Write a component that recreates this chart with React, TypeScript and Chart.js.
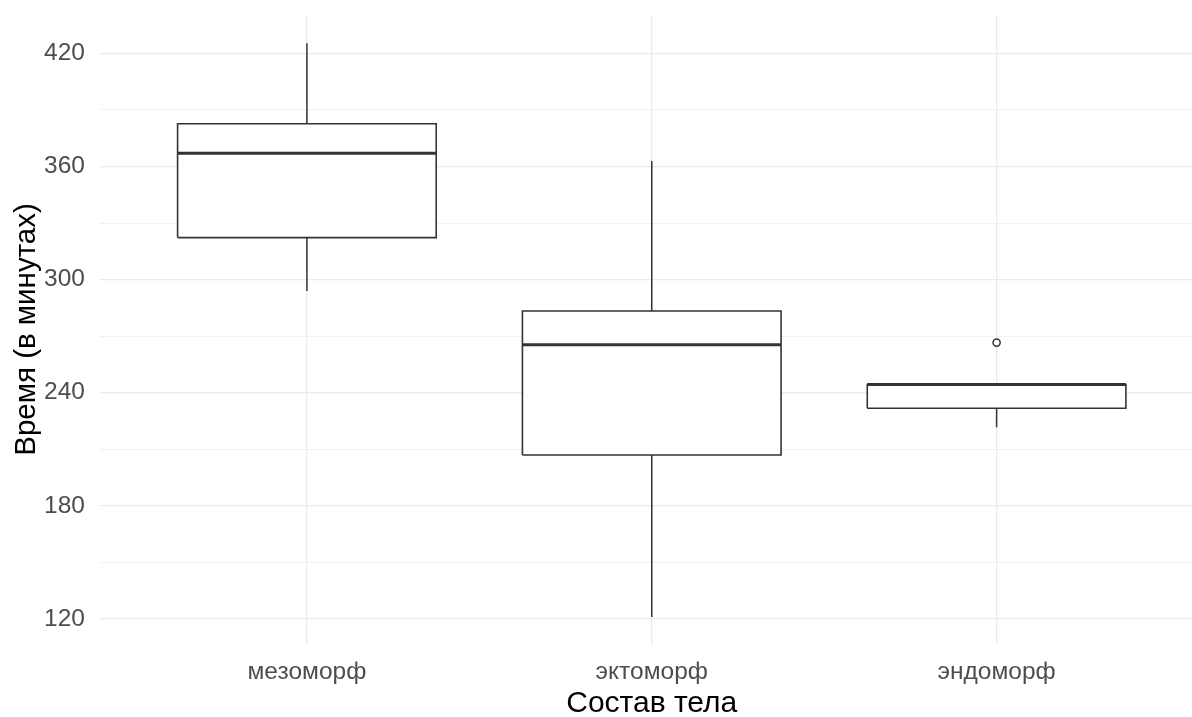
import React, { useEffect, useRef } from 'react';
import { Chart, registerables } from 'chart.js';

Chart.register(...registerables);

const categories = ['мезоморф', 'эктоморф', 'эндоморф'];
const whiskerLow = [294, 121, 221.7];
const q1 = [322.3, 207, 231.8];
const median = [367.1, 265.4, 244.4];
const q3 = [382.7, 283.4, 244.4];
const whiskerHigh = [425.4, 363, 244.4];
const outliers: number[][] = [[], [], [266.6]];
const majorTicks = [120, 180, 240, 300, 360, 420];
const minorTicks = [150, 210, 270, 330, 390];

const xTitle = 'Состав тела';
const yTitle = 'Время (в минутах)';

const FONT = "'Liberation Sans', Arial, sans-serif";
const LINE = '#333333';
const HALF = 0.375;

export default function App() {
  const ref = useRef<HTMLCanvasElement | null>(null);

  useEffect(() => {
    document.body.style.margin = '0';
    const canvas = ref.current;
    if (!canvas) return;

    const datasets: any[] = [];
    categories.forEach((_, i) => {
      const x = i + 1;
      datasets.push({
        data: [
          { x, y: q3[i] },
          { x, y: whiskerHigh[i] },
        ],
        showLine: true,
        borderColor: LINE,
        borderWidth: 1.5,
        pointRadius: 0,
        fill: false,
        order: 3,
      });
      datasets.push({
        data: [
          { x, y: whiskerLow[i] },
          { x, y: q1[i] },
        ],
        showLine: true,
        borderColor: LINE,
        borderWidth: 1.5,
        pointRadius: 0,
        fill: false,
        order: 3,
      });
      datasets.push({
        data: [
          { x: x - HALF, y: q1[i] },
          { x: x + HALF, y: q1[i] },
          { x: x + HALF, y: q3[i] },
          { x: x - HALF, y: q3[i] },
          { x: x - HALF, y: q1[i] },
        ],
        showLine: true,
        borderColor: LINE,
        borderWidth: 1.6,
        backgroundColor: '#FFFFFF',
        pointRadius: 0,
        fill: 'shape',
        tension: 0,
        order: 2,
      });
      datasets.push({
        data: [
          { x: x - HALF, y: median[i] },
          { x: x + HALF, y: median[i] },
        ],
        showLine: true,
        borderColor: LINE,
        borderWidth: 3,
        pointRadius: 0,
        fill: false,
        order: 1,
      });
      if (outliers[i].length) {
        datasets.push({
          data: outliers[i].map((y) => ({ x, y })),
          showLine: false,
          pointRadius: 3.6,
          pointBorderWidth: 1.5,
          pointBorderColor: LINE,
          pointBackgroundColor: '#FFFFFF',
          order: 0,
        });
      }
    });

    const chart = new Chart(canvas, {
      type: 'scatter',
      data: { datasets },
      options: {
        animation: false,
        responsive: false,
        events: [],
        layout: { padding: { top: 15, left: 0, right: 0, bottom: 0 } },
        plugins: { legend: { display: false }, tooltip: { enabled: false } },
        scales: {
          x: {
            type: 'linear',
            min: 0.4,
            max: 3.6,
            afterBuildTicks: (s: any) => {
              s.ticks = categories.map((_, i) => ({ value: i + 1 }));
            },
            afterFit: (s: any) => {
              s.height = 73;
              s.paddingLeft = 0;
              s.paddingRight = 0;
            },
            ticks: {
              autoSkip: false,
              maxRotation: 0,
              padding: 14,
              color: '#4D4D4D',
              font: { family: FONT, size: 24.5 },
              callback: (v: any) => categories[Math.round(Number(v)) - 1] ?? '',
            },
            grid: { color: '#EBEBEB', lineWidth: 1.3, drawTicks: false },
            border: { display: false },
            title: {
              display: true,
              text: xTitle,
              color: '#000000',
              font: { family: FONT, size: 30, lineHeight: 1 },
              padding: { top: 0, bottom: -2 },
            },
          },
          y: {
            type: 'linear',
            min: 106.7,
            max: 440.4,
            afterBuildTicks: (s: any) => {
              s.ticks = [...majorTicks, ...minorTicks]
                .sort((a, b) => a - b)
                .map((v) => ({ value: v }));
            },
            afterFit: (s: any) => {
              s.width = 100;
              s.paddingTop = 0;
              s.paddingBottom = 0;
            },
            ticks: {
              padding: 15,
              color: '#4D4D4D',
              font: { family: FONT, size: 24.5 },
              callback: (v: any) => (majorTicks.includes(Number(v)) ? String(v) : ''),
            },
            grid: {
              color: (ctx: any) =>
                majorTicks.includes(ctx.tick?.value) ? '#EBEBEB' : '#F1F1F1',
              lineWidth: (ctx: any) => (majorTicks.includes(ctx.tick?.value) ? 1.3 : 1.1),
              drawTicks: false,
            },
            border: { display: false },
            title: {
              display: true,
              text: yTitle,
              color: '#000000',
              font: { family: FONT, size: 29.5, lineHeight: 1 },
              padding: { top: 12, bottom: 0 },
            },
          },
        },
      },
    });

    return () => chart.destroy();
  }, []);

  return (
    <div
      style={{
        position: 'absolute',
        left: 0,
        top: 0,
        width: 1192,
        height: 717,
        overflow: 'hidden',
        background: '#FFFFFF',
      }}
    >
      <canvas ref={ref} width={1209} height={717} style={{ display: 'block' }} />
    </div>
  );
}
